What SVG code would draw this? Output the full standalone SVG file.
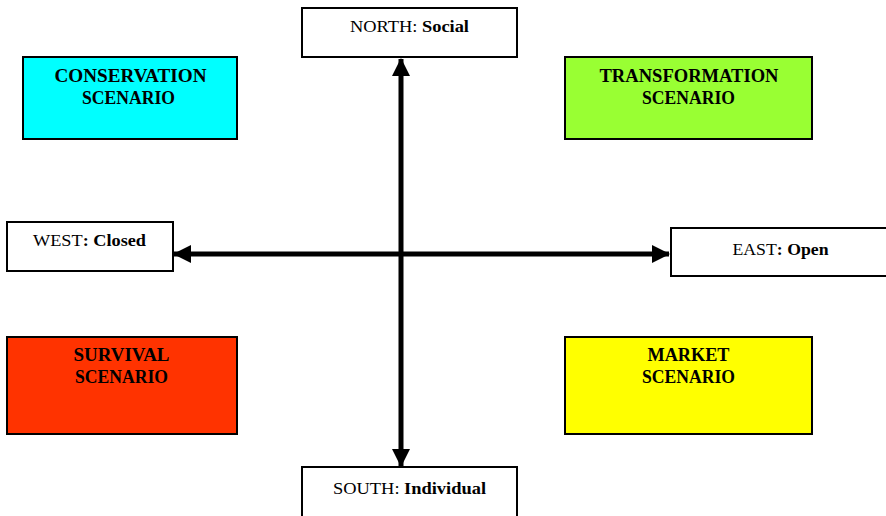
<svg xmlns="http://www.w3.org/2000/svg" width="886" height="516" viewBox="0 0 886 516">
<style>
.box{stroke:#000;stroke-width:2}
.lbl{fill:#000;stroke:#000;stroke-width:2;fill:#fff}
text{font-family:"Liberation Serif","Times New Roman",serif;fill:#000}
.s{font-size:18px;font-weight:bold;text-anchor:middle}
.d{font-size:17px;text-anchor:middle}
.b{font-weight:bold}
.ax{stroke:#000;stroke-width:5;fill:none}
</style>
<defs>
<marker id="ah" viewBox="0 0 18 18" refX="17" refY="9" markerWidth="18" markerHeight="18" markerUnits="userSpaceOnUse" orient="auto-start-reverse">
<path d="M0,0 L18,9 L0,18 Z" fill="#000"/>
</marker>
</defs>
<g id="connectors">
<line class="ax" x1="401" y1="59" x2="401" y2="466" marker-start="url(#ah)" marker-end="url(#ah)"/>
<line class="ax" x1="174" y1="254" x2="669" y2="254" marker-start="url(#ah)" marker-end="url(#ah)"/>
</g>
<g id="north"><rect class="lbl" x="302" y="8" width="215" height="49"/><text class="d" x="409.5" y="32" textLength="119" lengthAdjust="spacingAndGlyphs">NORTH: <tspan class="b">Social</tspan></text></g>
<g id="south"><rect class="lbl" x="302" y="467" width="215" height="60"/><text class="d" x="409.5" y="494" textLength="153" lengthAdjust="spacingAndGlyphs">SOUTH: <tspan class="b">Individual</tspan></text></g>
<g id="west"><rect class="lbl" x="7" y="222" width="166" height="49"/><text class="d" x="89.5" y="246" textLength="113" lengthAdjust="spacingAndGlyphs">WEST<tspan class="b">: Closed</tspan></text></g>
<g id="east"><rect class="lbl" x="671" y="228" width="220" height="48"/><text class="d" x="780.5" y="255" textLength="96" lengthAdjust="spacingAndGlyphs">EAST<tspan class="b">: Open</tspan></text></g>
<g id="conservation"><rect class="box" x="23" y="57" width="214" height="82" fill="#00FFFF"/><text class="s" x="130.5" y="82" textLength="152" lengthAdjust="spacingAndGlyphs">CONSERVATION</text><text class="s" x="128.5" y="104" textLength="93" lengthAdjust="spacingAndGlyphs">SCENARIO</text></g>
<g id="transformation"><rect class="box" x="565" y="57" width="247" height="82" fill="#99FF33"/><text class="s" x="689" y="82" textLength="179" lengthAdjust="spacingAndGlyphs">TRANSFORMATION</text><text class="s" x="688.5" y="104" textLength="93" lengthAdjust="spacingAndGlyphs">SCENARIO</text></g>
<g id="survival"><rect class="box" x="7" y="337" width="230" height="97" fill="#FF3300"/><text class="s" x="121.5" y="361" textLength="96" lengthAdjust="spacingAndGlyphs">SURVIVAL</text><text class="s" x="121.5" y="383" textLength="93" lengthAdjust="spacingAndGlyphs">SCENARIO</text></g>
<g id="market"><rect class="box" x="565" y="337" width="247" height="97" fill="#FFFF00"/><text class="s" x="688.5" y="361" textLength="82" lengthAdjust="spacingAndGlyphs">MARKET</text><text class="s" x="688.5" y="383" textLength="93" lengthAdjust="spacingAndGlyphs">SCENARIO</text></g>
</svg>
